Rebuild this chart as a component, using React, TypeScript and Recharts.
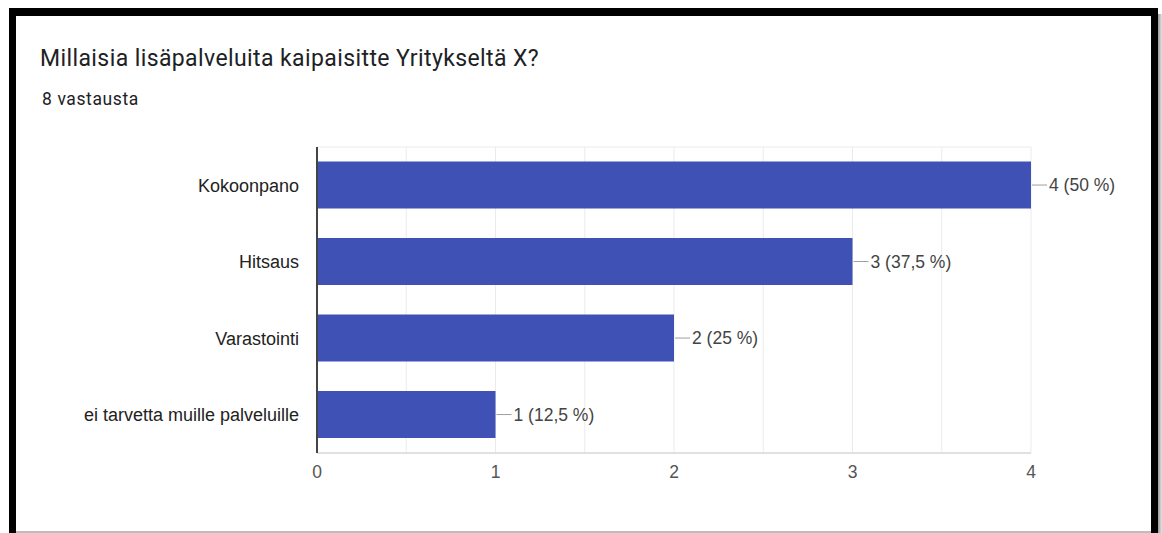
import React from "react";
import {
  BarChart,
  Bar,
  XAxis,
  YAxis,
  CartesianGrid,
  LabelList,
} from "recharts";

const categories = [
  "Kokoonpano",
  "Hitsaus",
  "Varastointi",
  "ei tarvetta muille palveluille",
];
const counts = [4, 3, 2, 1];
const percents = ["50 %", "37,5 %", "25 %", "12,5 %"];
const xTicks = [0, 1, 2, 3, 4];
const gridValues = [0, 0.5, 1, 1.5, 2, 2.5, 3, 3.5, 4];

const data = categories.map((name, i) => ({
  name,
  value: counts[i],
  label: `${counts[i]} (${percents[i]})`,
}));

const BAR_COLOR = "#3f51b5";
const ARIAL = "'Liberation Sans', Arial, sans-serif";

// value annotation with a short stem, like Google Forms draws it
function ValueLabel(props: any) {
  const { x, y, width, height, index } = props;
  const endX = Number(x) + Number(width);
  const cy = Number(y) + Number(height) / 2;
  return (
    <g>
      <line x1={endX + 1} x2={endX + 16} y1={cy} y2={cy} stroke="#9e9e9e" strokeWidth={1} />
      <text x={endX + 18} y={cy} dy="0.36em" fill="#444" fontSize={17.5} fontFamily={ARIAL}>
        {data[index].label}
      </text>
    </g>
  );
}

export default function App() {
  return (
    <div
      style={{
        position: "absolute",
        left: 0,
        top: 0,
        width: 1162,
        height: 533,
        background: "#fff",
        overflow: "hidden",
      }}
    >
      {/* black frame around the screenshot card */}
      <div
        style={{
          position: "absolute",
          left: 9,
          top: 8,
          width: 1135,
          height: 540,
          borderTop: "8px solid #000",
          borderLeft: "7px solid #000",
          borderRight: "7px solid #000",
        }}
      />
      <div
        style={{
          position: "absolute",
          left: 1158,
          top: 14,
          width: 4,
          height: 520,
          background: "linear-gradient(to right, #9a9a9a, #e6e6e6)",
        }}
      />
      <div
        style={{
          position: "absolute",
          left: 16,
          top: 531,
          width: 1135,
          height: 2,
          background: "#bdbdbd",
        }}
      />

      <div
        style={{
          position: "absolute",
          left: 40,
          top: 47,
          fontFamily: "Roboto, 'Noto Sans', sans-serif",
          fontSize: 23,
          letterSpacing: 0.4,
          lineHeight: 1,
          color: "#202124",
          whiteSpace: "nowrap",
        }}
      >
        Millaisia lisäpalveluita kaipaisitte Yritykseltä X?
      </div>
      <div
        style={{
          position: "absolute",
          left: 42,
          top: 91,
          fontFamily: "Roboto, 'Noto Sans', sans-serif",
          fontSize: 17.5,
          letterSpacing: 0.6,
          lineHeight: 1,
          color: "#202124",
          whiteSpace: "nowrap",
        }}
      >
        8 vastausta
      </div>

      <div style={{ position: "absolute", left: 0, top: 0 }}>
        <BarChart
          width={1162}
          height={533}
          data={data}
          layout="vertical"
          margin={{ top: 147, right: 131, bottom: 50, left: 0 }}
          barCategoryGap="19%"
        >
          <CartesianGrid
            stroke="#ebebeb"
            verticalValues={gridValues}
            horizontalCoordinatesGenerator={({ offset }: any) => [
              offset.top,
              offset.top + offset.height,
            ]}
          />
          <XAxis
            type="number"
            domain={[0, 4]}
            ticks={xTicks}
            height={30}
            axisLine={{ stroke: "#cccccc" }}
            tickLine={false}
            tickSize={0}
            tickMargin={13}
            tick={{ fill: "#555", fontSize: 17.5, fontFamily: ARIAL }}
          />
          <YAxis
            type="category"
            dataKey="name"
            width={317}
            axisLine={{ stroke: "#444", strokeWidth: 2 }}
            tickLine={false}
            tickSize={0}
            tickMargin={18}
            tick={{ fill: "#222", fontSize: 18, fontFamily: ARIAL }}
          />
          <Bar dataKey="value" fill={BAR_COLOR} isAnimationActive={false}>
            <LabelList dataKey="label" content={<ValueLabel />} />
          </Bar>
        </BarChart>
      </div>
    </div>
  );
}
